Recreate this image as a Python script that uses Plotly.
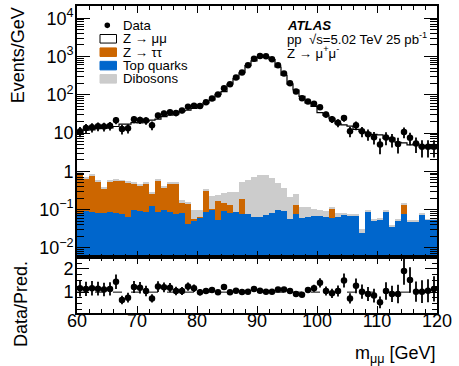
import plotly.graph_objects as go

# ---------------- data ----------------
bin_low = list(range(60, 120))            # 1 GeV bins, 60-120 GeV
bin_centers = [b + 0.5 for b in bin_low]
bin_edges = list(range(60, 121))

data = [11.1, 13.5, 14.1, 15.0, 14.8, 15.6, 21.5, 12.8, 13.3, 22.8,
        21.9, 21.1, 15.9, 28.5, 32.3, 34.8, 33.2, 39.0, 48.8, 51.6,
        50.5, 64.0, 80.0, 101.0, 148.0, 189.0, 281.0, 380.0, 590.0, 880.0,
        1030.0, 1010.0, 850.0, 590.0, 360.0, 200.0, 122.0, 81.0, 67.0, 58.5,
        47.5, 30.5, 23.0, 18.5, 24.6, 11.1, 15.9, 11.1, 9.3, 7.8,
        5.0, 7.6, 6.8, 5.2, 10.6, 7.5, 5.3, 4.4, 4.4, 4.4]

data_err = [3.3, 3.7, 3.8, 3.9, 3.8, 3.9, 4.6, 3.6, 3.6, 4.8,
            4.7, 4.6, 4.0, 5.3, 5.7, 5.9, 5.8, 6.2, 7.0, 7.2,
            7.1, 8.0, 8.9, 10.0, 12.0, 14.0, 17.0, 19.0, 24.0, 30.0,
            32.0, 32.0, 29.0, 24.0, 19.0, 14.0, 11.0, 9.0, 8.2, 7.6,
            6.9, 5.5, 4.8, 4.3, 5.0, 3.3, 4.0, 3.3, 3.0, 2.8,
            2.2, 2.8, 2.6, 2.3, 3.3, 2.7, 2.3, 2.1, 2.1, 2.1]

# total prediction (Z->mumu stacked on the backgrounds)
pred_total = [9.5, 11.8, 12.1, 13.0, 13.3, 13.7, 14.8, 17.0, 17.0, 18.7,
              18.4, 20.1, 21.8, 23.0, 26.7, 29.2, 31.6, 37.1, 39.4, 44.1,
              51.0, 61.0, 73.0, 102.0, 121.0, 191.0, 265.0, 376.0, 578.0, 772.0,
              972.0, 990.0, 833.0, 532.0, 324.0, 190.0, 133.0, 91.0, 61.0, 50.0,
              34.0, 29.0, 24.2, 17.6, 16.4, 15.2, 12.5, 10.9, 10.1, 9.2,
              8.9, 7.2, 7.4, 5.7, 5.5, 4.9, 5.2, 4.3, 4.2, 3.9]

top_quarks = [0.079, 0.093, 0.088, 0.081, 0.081, 0.084, 0.082, 0.078, 0.063, 0.100,
              0.093, 0.088, 0.126, 0.084, 0.097, 0.084, 0.078, 0.081, 0.042, 0.052,
              0.062, 0.087, 0.100, 0.053, 0.093, 0.080, 0.086, 0.078, 0.076, 0.062,
              0.065, 0.073, 0.080, 0.097, 0.093, 0.057, 0.076, 0.060, 0.065, 0.069,
              0.066, 0.0625, 0.059, 0.0625, 0.072, 0.066, 0.069, 0.0244, 0.088, 0.053,
              0.0565, 0.088, 0.036, 0.053, 0.076, 0.049, 0.049, 0.076, 0.054, 0.0565]

z_tautau = [0.79, 0.57, 0.67, 0.45, 0.28, 0.45, 0.50, 0.48, 0.44, 0.38,
            0.34, 0.39, 0.134, 0.50, 0.28, 0.40, 0.40, 0.07, 0.10, 0.003,
            0.003, 0.22, 0.005, 0.117, 0.055, 0.053, 0.0, 0.109, 0.0, 0.0,
            0.0, 0.0, 0.0, 0.0, 0.0, 0.0, 0.057, 0.0, 0.0, 0.0,
            0.0, 0.0, 0.05, 0.0, 0.0, 0.0, 0.0, 0.0, 0.0, 0.0,
            0.0, 0.0, 0.0, 0.0, 0.057, 0.0, 0.0, 0.0, 0.0, 0.0]

dibosons = [0.08, 0.04, 0.045, 0.03, 0.02, 0.03, 0.03, 0.03, 0.03, 0.03,
            0.03, 0.03, 0.02, 0.03, 0.024, 0.03, 0.02, 0.03, 0.01, 0.045,
            0.035, 0.02, 0.115, 0.07, 0.12, 0.147, 0.204, 0.333, 0.504, 0.668,
            0.72, 0.712, 0.60, 0.393, 0.267, 0.158, 0.117, 0.054, 0.049, 0.033,
            0.031, 0.0305, 0.011, 0.02, 0.01, 0.012, 0.008, 0.006, 0.004, 0.003,
            0.0025, 0.004, 0.002, 0.003, 0.007, 0.002, 0.002, 0.003, 0.002, 0.0025]

ratio = [1.165, 1.14, 1.165, 1.15, 1.11, 1.14, 1.45, 0.66, 0.76, 1.22,
         1.19, 1.05, 0.73, 1.24, 1.21, 1.19, 1.05, 1.05, 1.24, 1.17,
         0.99, 1.05, 1.09, 0.99, 1.22, 0.99, 1.06, 1.01, 1.02, 1.14,
         1.06, 1.02, 1.02, 1.11, 1.11, 1.05, 0.92, 0.89, 1.09, 1.17,
         1.40, 1.05, 0.95, 1.05, 1.50, 0.73, 1.27, 1.02, 0.92, 0.85,
         0.56, 1.05, 0.92, 0.92, 1.91, 1.52, 1.02, 1.02, 1.06, 1.14]

ratio_err = [0.35, 0.31, 0.31, 0.30, 0.29, 0.29, 0.31, 0.18, 0.21, 0.26,
             0.25, 0.23, 0.18, 0.23, 0.21, 0.20, 0.18, 0.17, 0.18, 0.16,
             0.14, 0.13, 0.12, 0.10, 0.10, 0.07, 0.063, 0.052, 0.042, 0.038,
             0.033, 0.032, 0.035, 0.046, 0.058, 0.074, 0.083, 0.099, 0.13, 0.15,
             0.20, 0.19, 0.20, 0.24, 0.30, 0.22, 0.32, 0.31, 0.30, 0.30,
             0.25, 0.38, 0.35, 0.40, 0.59, 0.55, 0.44, 0.49, 0.50, 0.54]

legend_labels = ["Data", "Z → μμ", "Z → ττ", "Top quarks", "Dibosons"]
y_tickvals = [1e-2, 1e-1, 1, 10, 100, 1e3, 1e4]
y_ticktext = ["10<sup>−2</sup>", "10<sup>−1</sup>", "1", "10",
              "10<sup>2</sup>", "10<sup>3</sup>", "10<sup>4</sup>"]
x_tickvals = [60, 70, 80, 90, 100, 110, 120]

# ---------------- styling ----------------
FONT = "Liberation Sans, Arial, Helvetica, sans-serif"
C_TAU = "#cc6600"
C_TOP = "#0066cc"
C_DIB = "#cccccc"

W_PX, H_PX = 459, 366
ML, MR, MT, MB = 77, 22, 4, 53
PW = W_PX - ML - MR
PH = H_PX - MT - MB
RATIO_FRAC = 56.0 / PH


def px(x):
    return (x - ML) / PW


def py(y):
    return (H_PX - MB - y) / PH


fig = go.Figure()

# stacked backgrounds
for vals, col in [(top_quarks, C_TOP), (z_tautau, C_TAU), (dibosons, C_DIB)]:
    fig.add_trace(go.Bar(x=bin_centers, y=vals, width=1.0,
                         marker=dict(color=col, line=dict(width=0)),
                         xaxis="x", yaxis="y", showlegend=False, hoverinfo="skip"))

# Z->mumu total outline
fig.add_trace(go.Scatter(x=bin_edges, y=pred_total + [pred_total[-1]],
                         mode="lines", line=dict(shape="hv", color="black", width=1.2),
                         xaxis="x", yaxis="y", showlegend=False))

# data
fig.add_trace(go.Scatter(x=bin_centers, y=data, mode="markers",
                         marker=dict(color="black", size=6.5),
                         error_y=dict(type="data", array=data_err, color="black",
                                      thickness=1.8, width=0),
                         xaxis="x", yaxis="y", showlegend=False))

# ratio
fig.add_trace(go.Scatter(x=bin_centers, y=ratio, mode="markers",
                         marker=dict(color="black", size=6.5),
                         error_y=dict(type="data", array=ratio_err, color="black",
                                      thickness=1.8, width=0),
                         xaxis="x2", yaxis="y2", showlegend=False))

fig.add_shape(type="line", xref="x2", yref="y2", x0=60, x1=120, y0=1, y1=1,
              line=dict(color="black", width=1, dash="dash"), layer="below")

minor_log = [m * 10 ** e for e in range(-3, 5) for m in range(2, 10)]

axis_common = dict(showline=True, linecolor="black", linewidth=1.6, mirror="ticks",
                   ticks="inside", tickcolor="black", showgrid=False, zeroline=False,
                   tickfont=dict(family=FONT, size=18, color="black"))

fig.update_layout(
    width=W_PX, height=H_PX,
    margin=dict(l=ML, r=MR, t=MT, b=MB),
    paper_bgcolor="white", plot_bgcolor="white",
    barmode="stack", bargap=0,
    font=dict(family=FONT, color="black"),
    xaxis=dict(domain=[0, 1], range=[60, 120], anchor="y", showticklabels=False,
               tickvals=x_tickvals, ticklen=7, tickwidth=1,
               minor=dict(ticks="inside", ticklen=4, dtick=2, tick0=60,
                          tickcolor="black", tickwidth=1, showgrid=False),
               **axis_common),
    yaxis=dict(domain=[RATIO_FRAC, 1], type="log", range=[-2.25, 4.32], anchor="x",
               tickmode="array", tickvals=y_tickvals, ticktext=y_ticktext,
               ticklen=13, tickwidth=1, ticklabelstandoff=-2,
               minor=dict(ticks="inside", ticklen=7, tickmode="array",
                          tickvals=minor_log, tickcolor="black", tickwidth=1,
                          showgrid=False),
               **axis_common),
    xaxis2=dict(domain=[0, 1], range=[60, 120], anchor="y2",
                tickvals=x_tickvals, ticklen=7, tickwidth=1, ticklabelstandoff=-9,
                minor=dict(ticks="inside", ticklen=4, dtick=2, tick0=60,
                           tickcolor="black", tickwidth=1, showgrid=False),
                **axis_common),
    yaxis2=dict(domain=[0, RATIO_FRAC], range=[0.1, 2.5], anchor="x2",
                tickvals=[1, 2], ticklen=12, tickwidth=1, ticklabelstandoff=-2,
                minor=dict(ticks="inside", ticklen=5, dtick=0.25, tick0=0,
                           tickcolor="black", tickwidth=1, showgrid=False),
                **axis_common),
)

# axis titles
fig.add_annotation(text="Events/GeV", xref="paper", yref="paper",
                   x=px(17.5), y=py(54), textangle=-90, showarrow=False,
                   xanchor="center", yanchor="middle",
                   font=dict(family=FONT, size=18, color="black"))
fig.add_annotation(text="Data/Pred.", xref="paper", yref="paper",
                   x=px(21), y=py(304), textangle=-90, showarrow=False,
                   xanchor="center", yanchor="middle",
                   font=dict(family=FONT, size=18, color="black"))
fig.add_annotation(text="m<sub>μμ</sub> [GeV]", xref="paper", yref="paper",
                   x=px(438), y=py(355), showarrow=False,
                   xanchor="right", yanchor="middle",
                   font=dict(family=FONT, size=18, color="black"))

# legend (drawn by hand, ATLAS style)
LFS = 13.2
rows = [23.5, 37.0, 50.5, 64.0, 77.3]
box_x0, box_x1 = 100.0, 116.5
text_x = 120.5
fig.add_shape(type="circle", xref="paper", yref="paper",
              x0=px(107.3 - 2.8), x1=px(107.3 + 2.8), y0=py(rows[0] + 2.8), y1=py(rows[0] - 2.8),
              fillcolor="black", line=dict(color="black", width=0))
box_styles = [("white", "black"), (C_TAU, C_TAU), (C_TOP, C_TOP), (C_DIB, C_DIB)]
for (fc, lc), r in zip(box_styles, rows[1:]):
    fig.add_shape(type="rect", xref="paper", yref="paper",
                  x0=px(box_x0), x1=px(box_x1), y0=py(r + 4.3), y1=py(r - 4.3),
                  fillcolor=fc, line=dict(color=lc, width=1))
for lab, r in zip(legend_labels, rows):
    fig.add_annotation(text=lab, xref="paper", yref="paper", x=px(text_x), y=py(r),
                       xanchor="left", yanchor="middle", showarrow=False,
                       font=dict(family=FONT, size=LFS, color="black"))

# ATLAS label
atl_x = 285.0
fig.add_annotation(text="<b><i>ATLAS</i></b>", xref="paper", yref="paper",
                   x=px(atl_x), y=py(rows[0]), xanchor="left", yanchor="middle",
                   showarrow=False, font=dict(family=FONT, size=LFS, color="black"))
fig.add_annotation(text="pp  √s=5.02 TeV 25 pb<sup>-1</sup>", xref="paper", yref="paper",
                   x=px(atl_x), y=py(rows[1]), xanchor="left", yanchor="middle",
                   showarrow=False, font=dict(family=FONT, size=LFS, color="black"))
fig.add_annotation(text="Z → μ<sup>+</sup>μ<sup>-</sup>", xref="paper", yref="paper",
                   x=px(atl_x), y=py(rows[2]), xanchor="left", yanchor="middle",
                   showarrow=False, font=dict(family=FONT, size=LFS, color="black"))

fig.write_html("out.html")
